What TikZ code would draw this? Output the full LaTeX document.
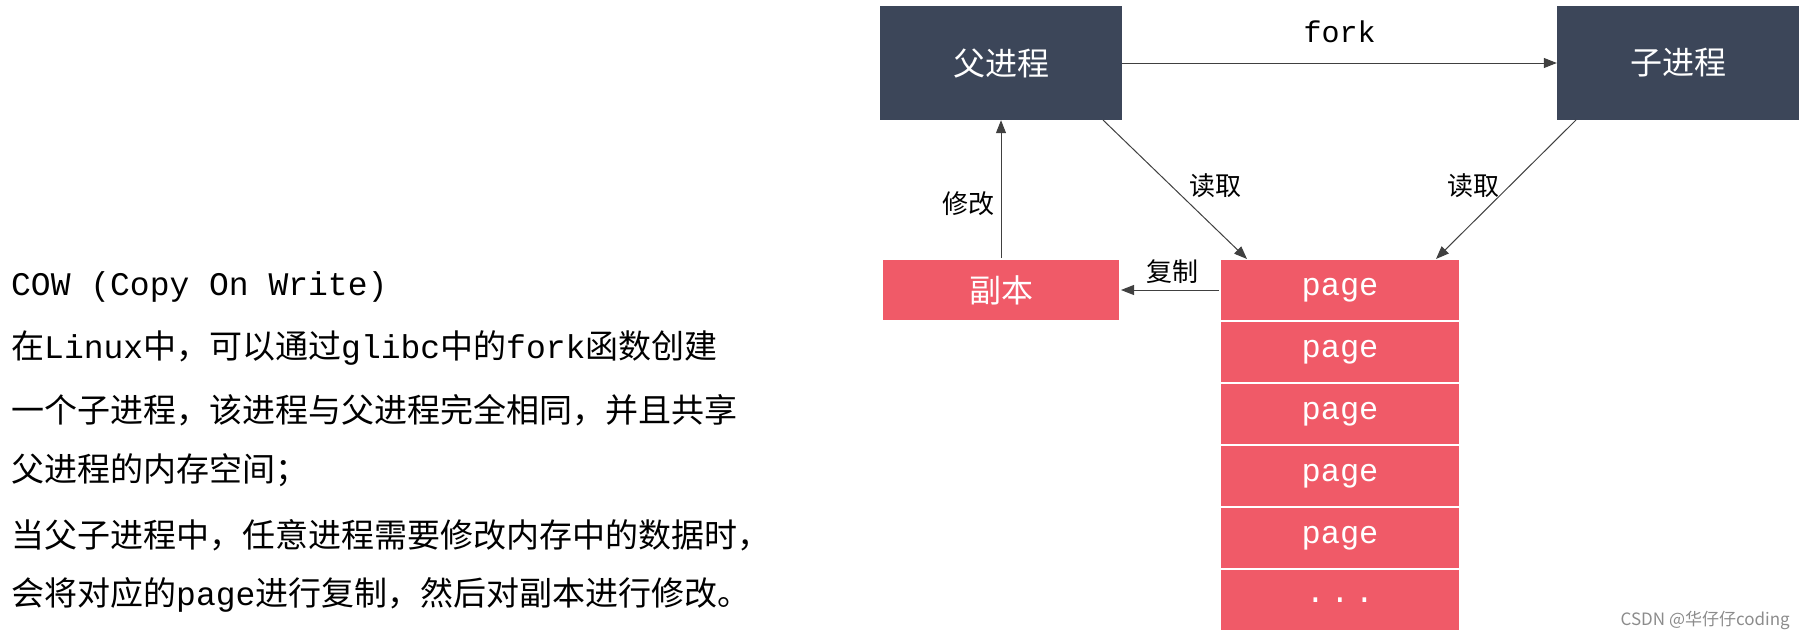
\documentclass[tikz,border=0pt]{standalone}
\usepackage{fontspec}
\setmainfont{Liberation Mono}
\newfontfamily\cjk{Noto Sans CJK SC}
\usetikzlibrary{arrows.meta}
\definecolor{dk}{HTML}{3C4659}
\definecolor{rd}{HTML}{F05A68}
\begin{document}
\begin{tikzpicture}[x=1pt,y=-1pt,
  dbox/.style={fill=dk,draw=none,minimum width=242pt,minimum height=114pt,inner sep=0,text=white,font=\cjk\fontsize{32}{36}\selectfont},
  rbox/.style={fill=rd,draw=white,line width=2pt,minimum width=240pt,minimum height=62pt,inner sep=0,text=white,font=\fontsize{32}{36}\selectfont},
  con/.style={draw=black!75,line width=1pt,-{Triangle[length=13pt,width=10pt]}},
  lab/.style={font=\cjk\fontsize{26}{30}\selectfont,inner sep=0},
  txt/.style={anchor=west,inner sep=0,font=\fontsize{33}{36}\selectfont}]
\useasboundingbox (0,0) rectangle (1799,637);
\node[dbox] (p) at (1001,63) {父进程};
\node[dbox] (c) at (1678,63) {子进程};
\node[rbox,minimum width=238pt] (copy) at (1001,290) {\cjk 副本};
\foreach \i/\t in {1/page,2/page,3/page,4/page,5/page,6/{.\,.\,.}}{
  \node[rbox] (pg\i) at (1340,{290+62*(\i-1)}) {\raisebox{-3pt}{\t}};
}
\draw[con] (p.east) -- node[above=20pt,font=\fontsize{30}{34}\selectfont,inner sep=0] {fork} (c.west);
\coordinate (ps) at (1103,120);
\coordinate (cs) at (1576,120);
\draw[con] (ps) -- (1247,259);
\draw[con] (cs) -- (1436,259);
\node[lab] at (1215,186) {读取};
\node[lab] at (1473,186) {读取};
\draw[con] (copy.north) -- (p.south);
\node[lab] at (968,204) {修改};
\draw[con] (pg1.west) -- (copy.east);
\node[lab] at (1172,272) {复制};
\node[anchor=south east,inner sep=0,text=black!45,font=\cjk\fontsize{17}{20}\selectfont] at (1790,630) {CSDN @华仔仔coding};
\node[txt] at (11,287) {COW (Copy On Write)};
\node[txt] at (11,348) {{\cjk 在}Linux{\cjk 中，可以通过}glibc{\cjk 中的}fork{\cjk 函数创建}};
\node[txt] at (11,410) {\cjk 一个子进程，该进程与父进程完全相同，并且共享};
\node[txt] at (11,470) {\cjk 父进程的内存空间；};
\node[txt] at (11,535) {\cjk 当父子进程中，任意进程需要修改内存中的数据时，};
\node[txt] at (11,595) {{\cjk 会将对应的}page{\cjk 进行复制，然后对副本进行修改。}};
\end{tikzpicture}
\end{document}
